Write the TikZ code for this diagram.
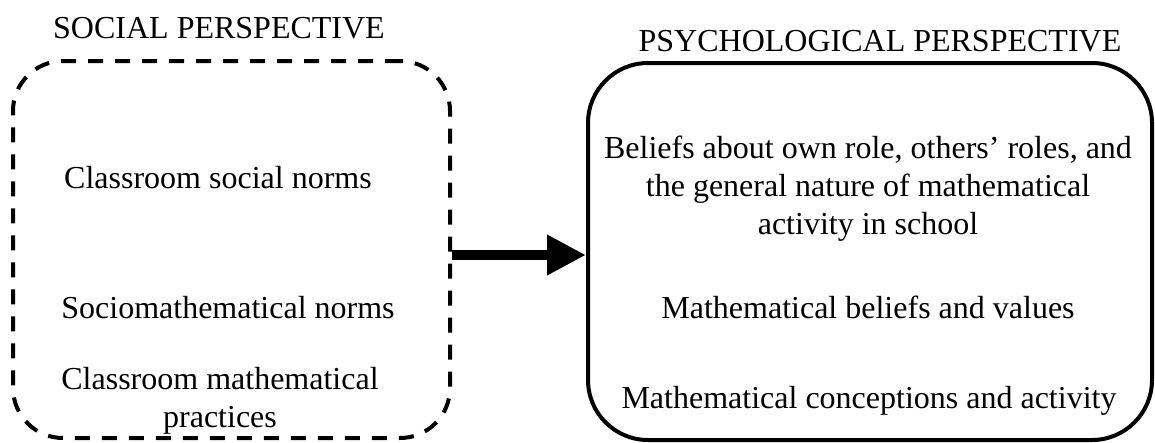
\documentclass[tikz,border=0pt]{standalone}
\usepackage{fontspec}
\setmainfont{Liberation Serif}
\usetikzlibrary{arrows.meta}
\begin{document}
\begin{tikzpicture}[x=1pt,y=-1pt,
  frame/.style={draw, line width=4pt, minimum width=#1, inner sep=0pt},
  lbl/.style={font=\fontsize{32}{38}\selectfont, anchor=base, inner sep=0pt, align=center},
  flow/.style={line width=10pt, -{Triangle[length=39pt,width=38pt]}}]
  \useasboundingbox (0,0) rectangle (1155,442);
  % the two perspective frames
  \node[frame=437pt, minimum height=377pt, dashed, dash pattern=on 15pt off 12pt,
        rounded corners=50pt] (social) at (231.5,249.5) {};
  \node[frame=564pt, minimum height=377pt, rounded corners=60pt] (psych) at (870,251.5) {};
  % headings
  \node[lbl] (socT) at (219,38) {SOCIAL PERSPECTIVE};
  \node[lbl] (psyT) at (880,51) {PSYCHOLOGICAL PERSPECTIVE};
  % social side (multi-line nodes are placed by their last baseline)
  \node[lbl] (s1) at (218,188) {Classroom social norms};
  \node[lbl] (s2) at (228,318) {Sociomathematical norms};
  \node[lbl] (s3) at (220,427) {Classroom mathematical\\practices};
  % psychological side
  \node[lbl] (p1) at (868,234) {Beliefs about own role, others’ roles, and\\the general nature of mathematical\\activity in school};
  \node[lbl] (p2) at (868,318) {Mathematical beliefs and values};
  \node[lbl] (p3) at (869,408) {Mathematical conceptions and activity};
  % link between the frames
  \draw[flow] (social.east |- 0,255) -- (psych.west |- 0,255);
\end{tikzpicture}
\end{document}
